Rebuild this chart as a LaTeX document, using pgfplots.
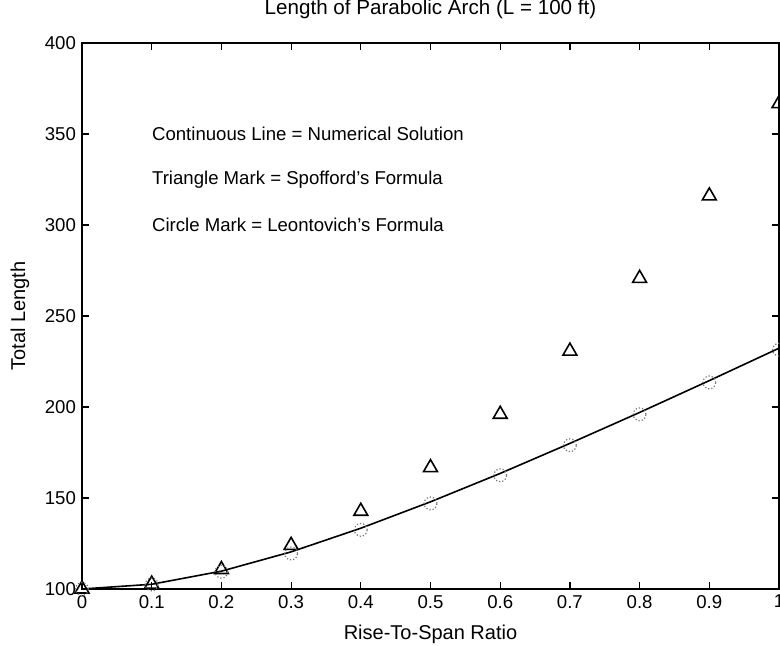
\documentclass[border=0pt]{standalone}
\usepackage{pgfplots}
\pgfplotsset{compat=1.18}
\usepackage{fontspec}
\setmainfont{Liberation Sans}
\begin{document}
\begin{tikzpicture}
\begin{axis}[
  scale only axis,
  width=348.5pt, height=273pt,
  xmin=0, xmax=1, ymin=100, ymax=400,
  xtick={0,0.1,...,1.01},
  xticklabels={0,0.1,0.2,0.3,0.4,0.5,0.6,0.7,0.8,0.9,1},
  ytick={100,150,...,400},
  tick align=inside,
  major tick length=3.5pt,
  tick style={black, line width=0.6pt},
  axis line style={line width=0.8pt},
  font=\fontsize{9.3}{11}\selectfont,
  /pgf/number format/assume math mode=true,
  xticklabel style={yshift=0.5pt},
  yticklabel style={xshift=0.5pt},
  title={Length of Parabolic Arch (L = 100 ft)},
  title style={at={(axis description cs:0.5,1)}, anchor=base, yshift=8pt, font=\fontsize{10.3}{12}\selectfont},
  xlabel={Rise-To-Span Ratio},
  xlabel style={at={(axis description cs:0.5,0)}, anchor=base, yshift=-25pt, font=\fontsize{10}{12}\selectfont},
  ylabel={Total Length},
  ylabel style={at={(axis description cs:-0.089,0.5)}, anchor=center, rotate=0, font=\fontsize{10}{12}\selectfont},
  clip=false,
]
% Numerical solution (continuous line)
\addplot[black, line width=0.8pt, no marks] coordinates {
 (0,100) (0.1,102.6) (0.2,109.8) (0.3,120.4) (0.4,133.4) (0.5,147.9)
 (0.6,163.5) (0.7,180.0) (0.8,197.0) (0.9,214.5) (1.0,232.3)};
% Spofford's formula (triangles)
\addplot[only marks, mark=triangle, mark size=4pt, mark options={black, line width=0.8pt}] coordinates {
 (0,100) (0.1,102.7) (0.2,110.7) (0.3,124.0) (0.4,142.7) (0.5,166.7)
 (0.6,196.0) (0.7,230.7) (0.8,270.7) (0.9,316.0) (1.0,366.7)};
% Leontovich's formula (circles)
\addplot[only marks, mark=o, mark size=3.2pt, mark options={black!55, line width=0.6pt, densely dotted}] coordinates {
 (0,100) (0.1,102.5) (0.2,109.5) (0.3,119.5) (0.4,132.5) (0.5,147.0)
 (0.6,162.5) (0.7,179.0) (0.8,196.0) (0.9,213.5) (1.0,231.5)};
\node[anchor=west, inner sep=0pt, font=\fontsize{9.3}{11}\selectfont] at (axis cs:0.1,350) {Continuous Line = Numerical Solution};
\node[anchor=west, inner sep=0pt, font=\fontsize{9.3}{11}\selectfont] at (axis cs:0.1,325) {Triangle Mark = Spofford's Formula};
\node[anchor=west, inner sep=0pt, font=\fontsize{9.3}{11}\selectfont] at (axis cs:0.1,300) {Circle Mark = Leontovich's Formula};
\end{axis}
\pgfresetboundingbox
\path[use as bounding box] ([shift={(-41pt,-28.5pt)}]current axis.south west) rectangle ([shift={(0.5pt,21.5pt)}]current axis.north east);
\end{tikzpicture}
\end{document}
